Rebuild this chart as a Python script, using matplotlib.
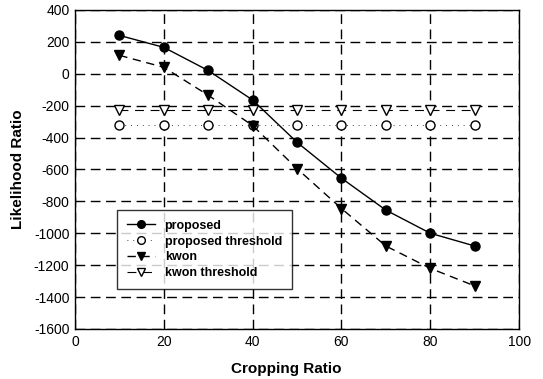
import matplotlib
matplotlib.use("Agg")
import matplotlib.pyplot as plt

plt.rcParams['font.family'] = ['Liberation Sans', 'DejaVu Sans']
plt.rcParams['axes.unicode_minus'] = False

# data
ratio = [10, 20, 30, 40, 50, 60, 70, 80, 90]
proposed = [240, 165, 20, -165, -430, -655, -855, -1000, -1080]
proposed_thr = [-320, -320, -320, -320, -320, -320, -320, -320, -320]
kwon = [115, 40, -135, -325, -595, -845, -1080, -1220, -1330]
kwon_thr = [-225, -225, -225, -225, -225, -225, -225, -225, -225]

fig = plt.figure(figsize=(5.43, 3.79), dpi=100)
ax = fig.add_axes([0.138, 0.132, 0.818, 0.842])

ax.plot(ratio, proposed, color='black', lw=1, marker='o', ms=6.5,
        label='proposed')
ax.plot(ratio, proposed_thr, color='black', lw=0.6, ls=(0, (1, 6)),
        marker='o', ms=6.5, mfc='white', label='proposed threshold')
ax.plot(ratio, kwon, color='black', lw=1, ls=(0, (6, 4)), marker='v',
        ms=6.5, label='kwon')
ax.plot(ratio, kwon_thr, color='black', lw=0.8, ls=(0, (8, 6)),
        marker='v', ms=6.5, mfc='white', label='kwon threshold')

ax.set_xlim(0, 100)
ax.set_ylim(-1600, 400)
ax.set_xticks(range(0, 101, 20))
ax.set_yticks(range(-1600, 401, 200))
ax.grid(True, color='black', ls=(0, (7, 4)), lw=1)
ax.tick_params(length=0, labelsize=10, pad=4)
for s in ax.spines.values():
    s.set_linewidth(1)

ax.set_xlabel('Cropping Ratio', fontsize=11, fontweight='bold', labelpad=12)
ax.xaxis.set_label_coords(0.475, -0.105)
ax.set_ylabel('Likelihood Ratio', fontsize=11, fontweight='bold', labelpad=6)

leg = ax.legend(loc='lower left', bbox_to_anchor=(0.095, 0.125),
                prop={'size': 9, 'weight': 'bold'}, frameon=True,
                fancybox=False, edgecolor='black', borderaxespad=0,
                handlelength=2.2, labelspacing=0.3, borderpad=0.8,
                markerscale=0.85)
leg.get_frame().set_linewidth(1)

fig.savefig('out.png', dpi=100)
